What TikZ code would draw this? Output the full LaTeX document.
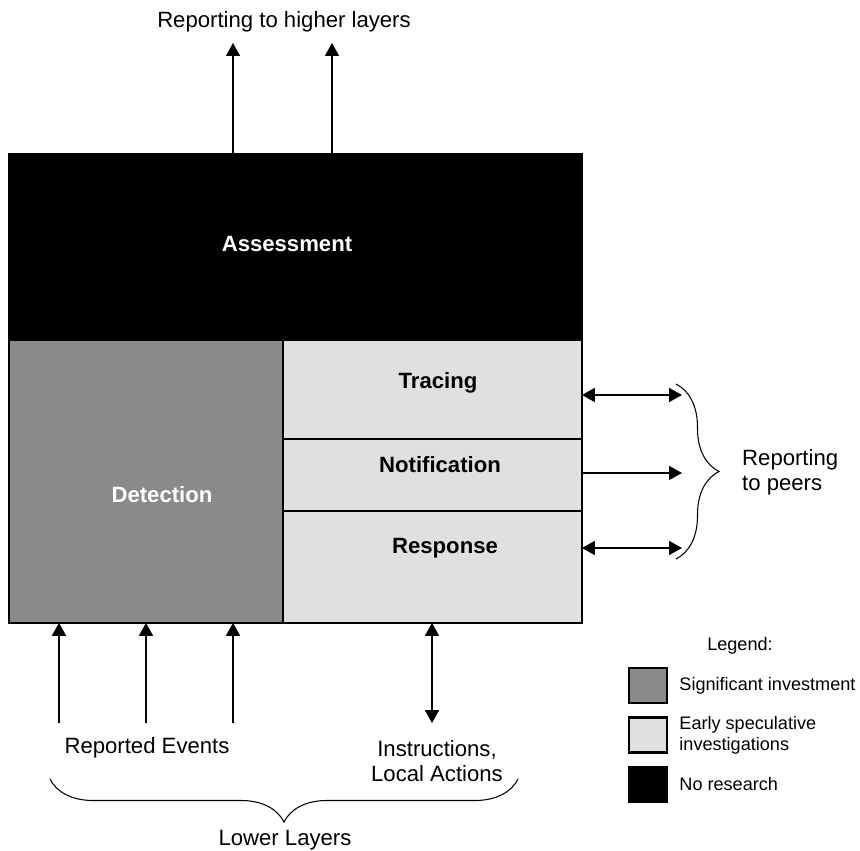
\documentclass[tikz,border=0pt]{standalone}
\usepackage{fontspec}
\setmainfont{Liberation Sans}
\usepackage{tikz}
\usetikzlibrary{arrows.meta,positioning,decorations.pathreplacing}

\definecolor{invest}{HTML}{8A8A8A}
\definecolor{early}{HTML}{E0E0E0}

\tikzset{
  layer/.style={draw=black, line width=1pt, outer sep=0pt, inner sep=0pt, anchor=north west},
  boxlabel/.style={font=\fontsize{12.6}{14}\selectfont\bfseries},
  arr/.style={-{Triangle[length=0.26cm,width=0.28cm]}, line width=1pt},
  arrboth/.style={{Triangle[length=0.26cm,width=0.28cm]}-{Triangle[length=0.26cm,width=0.28cm]}, line width=1pt},
  bracket/.style={decorate, decoration={brace, amplitude=0.86cm}, line width=0.6pt},
  legendbox/.style={draw=black, line width=1.4pt, minimum width=0.76cm, minimum height=0.7cm, inner sep=0pt},
  legendtext/.style={font=\fontsize{10.3}{12}\selectfont, align=left, anchor=west}
}

\begin{document}
\begin{tikzpicture}[x=0.02cm, y=-0.02cm, font=\fontsize{12.6}{14}\selectfont]
    \useasboundingbox (0,0) rectangle (860,851);

    % Assessment box
    \node[layer, fill=black, minimum width=11.46cm, minimum height=3.72cm] (assess) at (9,154) {};
    \node[boxlabel, text=white] (assesslbl) at (287,244) {Assessment};

    % Detection box
    \node[layer, fill=invest, minimum width=5.48cm, minimum height=5.66cm] (detect) at (assess.south west) {};
    \node[boxlabel, text=white] (detectlbl) at (162,495) {Detection};

    % Tracing / Notification / Response
    \node[layer, fill=early, minimum width=5.98cm, minimum height=1.98cm] (tracing) at (detect.north east) {};
    \node[layer, fill=early, minimum width=5.98cm, minimum height=1.44cm, below=0pt of tracing] (notify) {};
    \node[layer, fill=early, minimum width=5.98cm, minimum height=2.24cm, below=0pt of notify] (respond) {};
    \node[boxlabel] (tracinglbl) at (438,383) {Tracing};
    \node[boxlabel] (notifylbl) at (440,465) {Notification};
    \node[boxlabel] (respondlbl) at (445,548) {Response};

    % Reporting to higher layers
    \coordinate (hi1) at (233,43);
    \coordinate (hi2) at (332,43);
    \draw[arr] (hi1 |- assess.north) -- (hi1);
    \draw[arr] (hi2 |- assess.north) -- (hi2);
    \node (higher) at (284,22) {Reporting to higher layers};

    % Reporting to peers
    \coordinate (peer1) at (682,395);
    \coordinate (peer2) at (682,473);
    \coordinate (peer3) at (682,548);
    \draw[arrboth] (peer1 -| tracing.east) -- (peer1);
    \draw[arr] (peer2 -| notify.east) -- (peer2);
    \draw[arrboth] (peer3 -| respond.east) -- (peer3);
    \coordinate (pb1) at (676,384);
    \coordinate (pb2) at (676,559);
    \draw[bracket] (pb1) -- (pb2);
    \node[anchor=west, align=left] (peers) at (736,472) {Reporting\\to peers};

    % Lower layers
    \foreach \x [count=\i] in {59,146,233} {
        \coordinate (ev\i) at (\x,723);
        \draw[arr] (ev\i) -- (ev\i |- detect.south);
    }
    \coordinate (act) at (432,723);
    \draw[arrboth] (act |- respond.south) -- (act);
    \node (events) at (147,748) {Reported Events};
    \node[align=center] (actions) at (437,761) {Instructions,\\Local Actions};
    \coordinate (lb1) at (518,779);
    \coordinate (lb2) at (50,779);
    \draw[bracket] (lb1) -- (lb2);
    \node (lower) at (285,840) {Lower Layers};

    % Legend
    \node[font=\fontsize{10.3}{12}\selectfont] (legend) at (740,646) {Legend:};
    \node[legendbox, fill=invest] (lgsig) at (648,685.5) {};
    \node[legendbox, fill=early] (lgearly) at (648,735) {};
    \node[legendbox, fill=black] (lgnone) at (648,784.5) {};
    \node[legendtext, right=0.1cm of lgsig] (lgsigtxt) {Significant investment};
    \node[legendtext, right=0.1cm of lgearly] (lgearlytxt) {Early speculative\\investigations};
    \node[legendtext, right=0.1cm of lgnone] (lgnonetxt) {No research};
\end{tikzpicture}
\end{document}
